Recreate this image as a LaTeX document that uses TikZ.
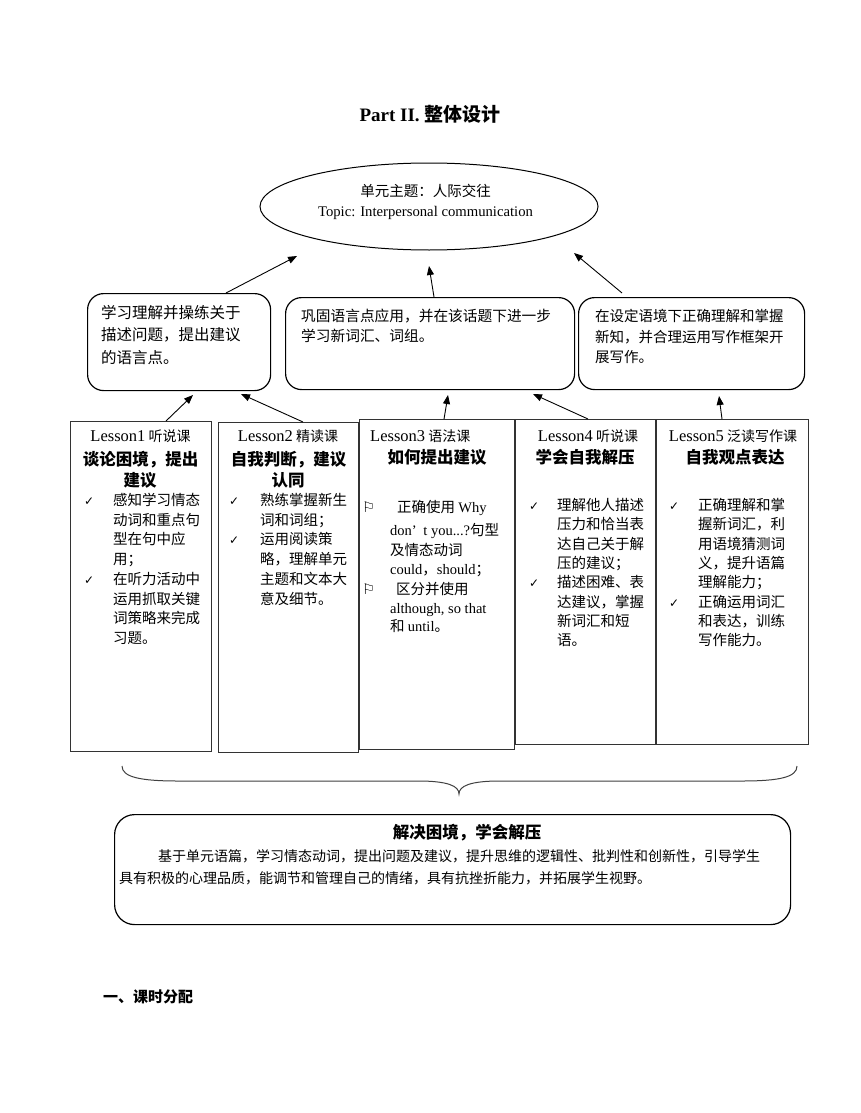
\documentclass[tikz,border=0pt]{standalone}
\usepackage{fontspec}
\setmainfont{Liberation Serif}
\newfontfamily\cjk{Noto Sans CJK SC}
\newfontfamily\tmsf{Liberation Serif}
\newfontfamily\djv{DejaVu Sans}
\usetikzlibrary{shapes.geometric,arrows.meta}
\newcommand\tm[1]{{\tmsf #1}}
\newcommand\les[1]{{\tmsf\fontsize{16.5}{19}\selectfont Lesson#1}}
\newcommand\chk{{\djv\fontsize{12}{14}\selectfont ✓}}
\newcommand\flg{{\djv\fontsize{14.5}{16}\selectfont ⚐}}
\begin{document}
\begin{tikzpicture}[x=1pt,y=-1pt,
  lbox/.style={draw=black!80, line width=1.1pt, anchor=north west, inner sep=0pt},
  rbox/.style={draw=black, line width=1.2pt, rounded corners=16pt, anchor=north west, inner sep=0pt},
  arr/.style={-{Triangle[length=9pt,width=7pt]}, line width=0.9pt},
  body/.style={font=\cjk\fontsize{14.5}{17}\selectfont, inner sep=0pt, anchor=base west},
  mbody/.style={font=\cjk\fontsize{14.7}{17}\selectfont, inner sep=0pt, anchor=base west},
  head/.style={font=\cjk\fontsize{14}{17}\selectfont, inner sep=0pt, anchor=base},
  bhead/.style={font=\cjk\bfseries\fontsize{16.5}{19}\selectfont, inner sep=0pt, anchor=base},
  chkst/.style={inner sep=0pt, anchor=base west},
  btext/.style={font=\cjk\fontsize{14}{17}\selectfont, inner sep=0pt, anchor=base west}
]
\fill[white] (0,0) rectangle (860,1113);
\useasboundingbox (0,0) rectangle (860,1113);

% title
\node[font=\tmsf\bfseries\fontsize{19}{22}\selectfont, anchor=base, inner sep=0pt] (title) at (430,122) {Part II. {\cjk 整体设计}};

% ellipse
\node[draw, ellipse, line width=1pt, minimum width=338pt, minimum height=87pt, inner sep=0pt] (E) at (429,206.5) {};
\node[font=\cjk\fontsize{14.5}{17}\selectfont, anchor=base, inner sep=0pt] (e1) at (425.5,196.5) {单元主题：人际交往};
\node[font=\tmsf\fontsize{14.7}{17}\selectfont, anchor=base, inner sep=0pt] (e2) at (425.5,216) {Topic: Interpersonal communication};

% middle rounded boxes
\node[rbox, minimum width=183pt, minimum height=97pt] (A) at (87,293) {};
\node[rbox, minimum width=289pt, minimum height=92pt] (B) at (285,297) {};
\node[rbox, minimum width=226pt, minimum height=92pt] (C) at (578,297) {};

\foreach[count=\i] \t in {学习理解并操练关于,描述问题，提出建议,的语言点。}
  \node[font=\cjk\fontsize{15.5}{17}\selectfont, inner sep=0pt, anchor=base west] (at\i) at (101,{318+22.7*(\i-1)}) {\t};
\foreach[count=\i] \t in {巩固语言点应用，并在该话题下进一步,学习新词汇、词组。}
  \node[mbody] (bt\i) at (301,{321.6+20.2*(\i-1)}) {\t};
\foreach[count=\i] \t in {在设定语境下正确理解和掌握,新知，并合理运用写作框架开,展写作。}
  \node[body] (ct\i) at (595,{321.5+20.5*(\i-1)}) {\t};

% arrows middle -> ellipse
\coordinate (a1s) at (226,293); \coordinate (a1e) at (297,256);
\coordinate (a2s) at (434,297); \coordinate (a2e) at (429,266);
\coordinate (a3s) at (622,293); \coordinate (a3e) at (574,253);
\draw[arr] (a1s) -- (a1e);
\draw[arr] (a2s) -- (a2e);
\draw[arr] (a3s) -- (a3e);

% lesson boxes
\node[lbox, minimum width=141pt, minimum height=330pt] (L1) at (70,421) {};
\node[lbox, minimum width=140pt, minimum height=330pt] (L2) at (218,422) {};
\node[lbox, minimum width=155pt, minimum height=330pt] (L3) at (359,419) {};
\node[lbox, minimum width=140pt, minimum height=325pt] (L4) at (515,419) {};
\node[lbox, minimum width=152pt, minimum height=325pt] (L5) at (656,419) {};

% arrows lesson -> middle
\coordinate (b1s) at (166,421); \coordinate (b1e) at (193,395);
\coordinate (b2s) at (303,422); \coordinate (b2e) at (241,394);
\coordinate (b3s) at (444,419); \coordinate (b3e) at (448,395);
\coordinate (b4s) at (588,419); \coordinate (b4e) at (533,394);
\coordinate (b5s) at (722,419); \coordinate (b5e) at (719,396);
\draw[arr] (b1s) -- (b1e);
\draw[arr] (b2s) -- (b2e);
\draw[arr] (b3s) -- (b3e);
\draw[arr] (b4s) -- (b4e);
\draw[arr] (b5s) -- (b5e);

% Lesson 1
\node[head] (h1) at (140.5,441.5) {\les{1} 听说课};
\node[bhead] (h1a) at (140.5,465.3) {谈论困境，提出};
\node[bhead] (h1b) at (140,486.8) {建议};
\node[chkst] (c11) at (84,505.5) {\chk};
\node[chkst] (c12) at (84,{505.5+19.7*4}) {\chk};
\foreach[count=\i] \t in {感知学习情态,动词和重点句,型在句中应,用；,在听力活动中,运用抓取关键,词策略来完成,习题。}
  \node[body] (l1t\i) at (113,{505.5+19.7*(\i-1)}) {\t};

% Lesson 2
\node[head] (h2) at (288,441.5) {\les{2} 精读课};
\node[bhead] (h2a) at (288.5,465.3) {自我判断，建议};
\node[bhead] (h2b) at (288,486.8) {认同};
\node[chkst] (c21) at (229,505.5) {\chk};
\node[chkst] (c22) at (229,{505.5+19.7*2}) {\chk};
\foreach[count=\i] \t in {熟练掌握新生,词和词组；,运用阅读策,略，理解单元,主题和文本大,意及细节。}
  \node[body] (l2t\i) at (260,{505.5+19.7*(\i-1)}) {\t};

% Lesson 3
\node[head, anchor=base west] (h3) at (370,441) {\les{3} 语法课};
\node[bhead] (h3a) at (437,463.8) {如何提出建议};
\node[chkst] (f31) at (362,512.5) {\flg};
\node[chkst] (f32) at (362,594.5) {\flg};
\node[body] (l3t1) at (397,512.5) {正确使用 \tm{Why}};
\node[body] (l3t2) at (390,535.5) {\tm{don’\hspace{3pt} t you...?}句型};
\node[body] (l3t3) at (390,555.5) {及情态动词};
\node[body] (l3t4) at (390,574.5) {\tm{could}，\tm{should}；};
\node[body] (l3t5) at (396,594.5) {区分并使用};
\node[body] (l3t6) at (390,613.5) {\tm{although, so that}};
\node[body] (l3t7) at (390,631.5) {和 \tm{until}。};

% Lesson 4
\node[head] (h4) at (588,441) {\les{4} 听说课};
\node[bhead] (h4a) at (585,463.8) {学会自我解压};
\node[chkst] (c41) at (529,510.5) {\chk};
\node[chkst] (c42) at (529,{510.5+19.3*4}) {\chk};
\foreach[count=\i] \t in {理解他人描述,压力和恰当表,达自己关于解,压的建议；,描述困难、表,达建议，掌握,新词汇和短,语。}
  \node[body] (l4t\i) at (557,{510.5+19.3*(\i-1)}) {\t};

% Lesson 5
\node[head] (h5) at (733,441) {\les{5} 泛读写作课};
\node[bhead] (h5a) at (735,463.8) {自我观点表达};
\node[chkst] (c51) at (669,510.5) {\chk};
\node[chkst] (c52) at (669,{510.5+19.3*5}) {\chk};
\foreach[count=\i] \t in {正确理解和掌,握新词汇，利,用语境猜测词,义，提升语篇,理解能力；,正确运用词汇,和表达，训练,写作能力。}
  \node[body] (l5t\i) at (698,{510.5+19.3*(\i-1)}) {\t};

% brace
\draw[black!75, line width=1pt] (122,766) .. controls (122,777) and (140,781) .. (178,781)
  -- (418,781) .. controls (448,781) and (459,786) .. (459,794)
  .. controls (459,786) and (470,781) .. (500,781)
  -- (742,781) .. controls (780,781) and (797,777) .. (797,766);

% bottom box
\node[rbox, rounded corners=20pt, minimum width=676pt, minimum height=110pt] (S) at (114,814) {};
\node[font=\cjk\bfseries\fontsize{16.5}{19}\selectfont, anchor=base, inner sep=0pt] (st) at (467,838) {解决困境，学会解压};
\node[btext] (s1) at (158,861.3) {基于单元语篇，学习情态动词，提出问题及建议，提升思维的逻辑性、批判性和创新性，引导学生};
\node[btext] (s2) at (119,883.3) {具有积极的心理品质，能调节和管理自己的情绪，具有抗挫折能力，并拓展学生视野。};

% section heading
\node[font=\cjk\bfseries\fontsize{15}{18}\selectfont, anchor=base west, inner sep=0pt] (sec) at (103,1002.7) {一、课时分配};
\end{tikzpicture}
\end{document}
